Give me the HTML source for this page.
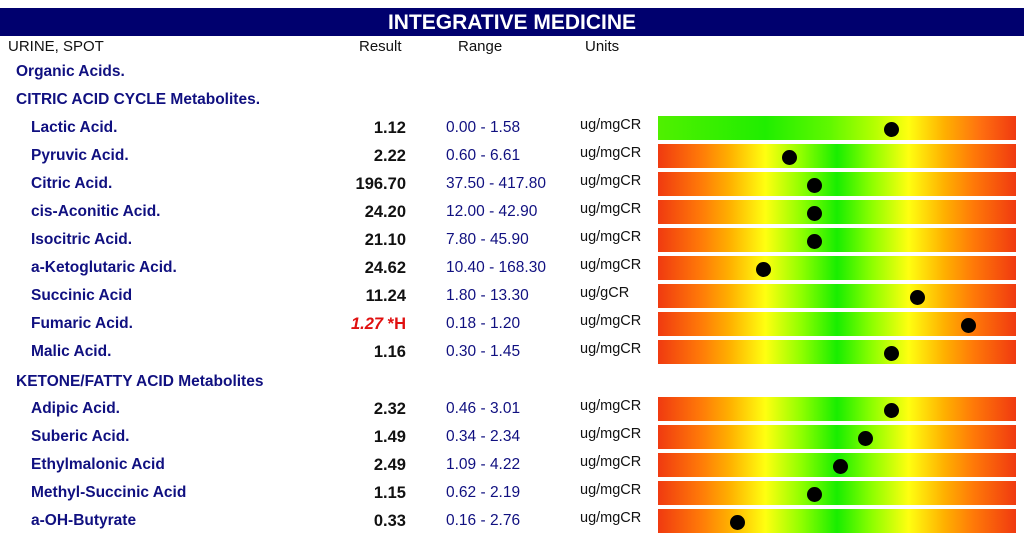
<!DOCTYPE html>
<html><head><meta charset="utf-8"><style>
body{margin:0;width:1024px;height:536px;background:#fff;font-family:"Liberation Sans",sans-serif;position:relative;overflow:hidden}
.a{position:absolute;white-space:nowrap}
#hdr{left:0;top:8px;width:1024px;height:28px;background:#00006e;color:#fff;font-weight:bold;font-size:21px;text-align:center;line-height:29px}
.col{top:38px;font-size:15px;color:#111}
.sec{left:16px;font-weight:bold;font-size:15.5px;color:#101080}
.nm{left:31px;font-weight:bold;font-size:15.5px;color:#101080}
.res{right:618px;font-weight:bold;font-size:16.5px;color:#111;text-align:right}
.rg{left:446px;font-size:15.5px;color:#101080}
.un{left:580px;font-size:14.5px;color:#111}
.bar{left:658px;width:358px;height:24px;background:linear-gradient(90deg,#f03a10 0%,#ff7a08 12%,#ffb000 20%,#ffff10 30%,#90ff00 40%,#18ee00 50%,#90ff00 60%,#ffff10 70%,#ffb000 80%,#ff7a08 88%,#f03a10 100%)}
.bar.one{background:linear-gradient(90deg,#50f000 0%,#20ee00 30%,#60f800 48%,#b0ff00 60%,#ffff10 70%,#ffb000 80%,#ff7010 90%,#f03a10 100%)}
.dot{width:15px;height:15px;border-radius:50%;background:#000}
</style></head><body>
<div class="a" id="hdr">INTEGRATIVE MEDICINE</div>
<div class="a col" style="left:8px">URINE, SPOT</div>
<div class="a col" style="left:359px">Result</div>
<div class="a col" style="left:458px">Range</div>
<div class="a col" style="left:585px">Units</div>
<div class="a sec" style="top:63px">Organic Acids.</div>
<div id="rows"></div>
<script>
const names=["Lactic Acid.","Pyruvic Acid.","Citric Acid.","cis-Aconitic Acid.","Isocitric Acid.","a-Ketoglutaric Acid.","Succinic Acid","Fumaric Acid.","Malic Acid.","Adipic Acid.","Suberic Acid.","Ethylmalonic Acid","Methyl-Succinic Acid","a-OH-Butyrate"];
const results=[1.12,2.22,196.70,24.20,21.10,24.62,11.24,1.27,1.16,2.32,1.49,2.49,1.15,0.33];
const lows=[0.00,0.60,37.50,12.00,7.80,10.40,1.80,0.18,0.30,0.46,0.34,1.09,0.62,0.16];
const highs=[1.58,6.61,417.80,42.90,45.90,168.30,13.30,1.20,1.45,3.01,2.34,4.22,2.19,2.76];
const units=["ug/mgCR","ug/mgCR","ug/mgCR","ug/mgCR","ug/mgCR","ug/mgCR","ug/gCR","ug/mgCR","ug/mgCR","ug/mgCR","ug/mgCR","ug/mgCR","ug/mgCR","ug/mgCR"];
const flags=["","","","","","","","*H","","","","","",""];
const centers=[127,155,183,211,239,267,295,323,351,408,436,464,492,520];
const root=document.getElementById('rows');
function mk(cls,txt,top,name){const d=document.createElement('div');d.className='a '+cls;if(txt!==null)d.textContent=txt;d.style.top=top+'px';


root.appendChild(d);return d;}
mk('sec','CITRIC ACID CYCLE Metabolites.',91,'citric-cycle-heading');
mk('sec','KETONE/FATTY ACID Metabolites',373,'ketone-fatty-heading');
function xPos(i){const f=(results[i]-lows[i])/(highs[i]-lows[i]);const p=lows[i]===0?f*0.92:0.2+0.6*f;let k=Math.round(p*14);k=Math.max(0,Math.min(13,k));return 661+25.6*k;}
names.forEach((n,i)=>{const c=centers[i];
mk('nm',n,c-8,'analyte-name');
const r=mk('res',null,c-8,'result-value');
if(flags[i]){r.style.color='#e01010';r.innerHTML='<i>'+results[i].toFixed(2)+'</i> '+flags[i];}else r.textContent=results[i].toFixed(2);
mk('rg',lows[i].toFixed(2)+' - '+highs[i].toFixed(2),c-8,'reference-range');
mk('un',units[i],c-10,'units');
mk('bar'+(lows[i]===0?' one':''),null,c-11,'range-gauge-bar');
const d=mk('dot',null,c-5,'result-marker');d.style.left=(xPos(i)-7.5)+'px';
});
</script>
</body></html>
